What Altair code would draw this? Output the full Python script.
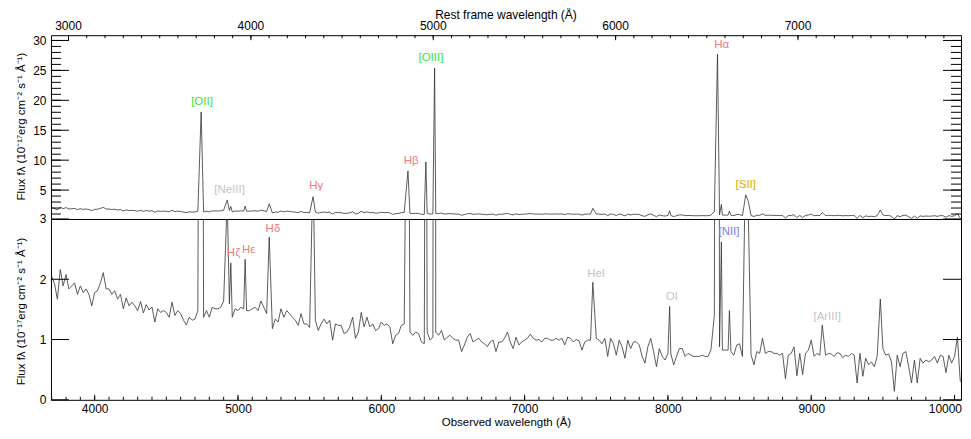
import altair as alt
import pandas as pd

# ---------------- data ----------------
grid_start = 3700     # observed wavelength of first continuum sample (A)
grid_step = 20        # sampling step of the continuum samples (A)
continuum = [
    2.05, 1.92, 1.67, 2.16, 1.89, 2.08, 1.84, 1.89, 1.94, 1.75,   # 3700-3880
    1.89, 1.78, 1.84, 1.75, 1.56, 1.78, 1.81, 1.94, 2.11, 1.84,   # 3900-4080
    1.84, 1.75, 1.81, 1.67, 1.75, 1.51, 1.69, 1.56, 1.62, 1.56,   # 4100-4280
    1.48, 1.63, 1.44, 1.58, 1.49, 1.54, 1.29, 1.51, 1.45, 1.48,   # 4300-4480
    1.45, 1.37, 1.62, 1.40, 1.48, 1.43, 1.32, 1.24, 1.37, 1.32,   # 4500-4680
    1.34, 1.48, 1.40, 1.37, 1.48, 1.37, 1.535, 1.51, 1.51, 1.535, # 4700-4880
    1.64, 1.60, 1.59, 1.37, 1.51, 1.48, 1.535, 1.51, 1.48, 1.48,  # 4900-5080
    1.51, 1.535, 1.48, 1.64, 1.535, 1.43, 1.30, 1.18, 1.34, 1.29, # 5100-5280
    1.51, 1.37, 1.48, 1.43, 1.37, 1.32, 1.235, 1.43, 1.26, 1.26,  # 5300-5480
    1.20, 1.25, 1.32, 1.15, 1.26, 1.34, 1.26, 1.32, 0.99, 1.26,   # 5500-5680
    1.235, 1.235, 1.10, 1.125, 1.21, 1.37, 1.02, 1.125, 1.45, 1.21, # 5700-5880
    1.37, 1.21, 1.26, 1.15, 1.18, 1.29, 1.235, 1.26, 1.21, 0.93,  # 5900-6080
    1.07, 1.10, 1.235, 1.26, 1.15, 1.125, 1.07, 1.125, 1.10, 0.96, # 6100-6280
    0.93, 1.125, 0.99, 1.04, 1.125, 1.07, 1.15, 0.99, 1.04, 1.07, # 6300-6480
    1.02, 0.99, 0.99, 0.80, 0.91, 1.04, 1.10, 0.96, 0.99, 1.02,   # 6500-6680
    0.96, 0.93, 0.88, 0.96, 0.99, 0.80, 0.96, 0.96, 1.02, 1.125,  # 6700-6880
    0.96, 0.85, 1.04, 0.91, 0.96, 0.99, 1.02, 1.09, 1.02, 0.99,   # 6900-7080
    1.00, 0.96, 1.02, 1.02, 0.99, 0.99, 1.02, 0.99, 1.02, 0.91,   # 7100-7280
    1.04, 1.02, 0.96, 1.00, 0.98, 0.825, 0.96, 0.99, 0.99, 0.98,  # 7300-7480
    1.02, 0.99, 0.93, 1.02, 0.72, 1.02, 0.93, 0.74, 0.99, 0.88,   # 7500-7680
    0.69, 0.99, 0.85, 0.96, 0.96, 0.91, 0.72, 0.61, 0.88, 1.02,   # 7700-7880
    0.80, 0.55, 0.85, 0.72, 0.66, 0.77, 0.77, 0.58, 0.72, 0.85,   # 7900-8080
    0.85, 0.72, 0.77, 0.74, 0.72, 0.72, 0.72, 0.74, 0.72, 0.72,   # 8100-8280
    0.825, 0.80, 0.80, 0.88, 0.825, 0.825, 0.825, 0.80, 0.74, 0.91, # 8300-8480
    0.93, 0.72, 0.75, 0.75, 0.75, 0.58, 0.80, 0.77, 1.02, 0.77,   # 8500-8680
    0.80, 0.80, 0.77, 0.77, 0.74, 0.77, 0.35, 0.74, 0.77, 0.88,   # 8700-8880
    0.40, 0.77, 0.42, 0.77, 0.825, 0.99, 0.72, 0.77, 0.74, 0.75,  # 8900-9080
    0.74, 0.77, 0.76, 0.72, 0.78, 0.77, 0.70, 0.74, 0.72, 0.77,   # 9100-9280
    0.74, 0.28, 0.77, 0.39, 0.69, 0.58, 0.63, 0.55, 0.72, 0.70,   # 9300-9480
    0.85, 0.74, 0.76, 0.63, 0.14, 0.74, 0.55, 0.77, 0.80, 0.55,   # 9500-9680
    0.28, 0.66, 0.28, 0.69, 0.61, 0.66, 0.63, 0.66, 0.72, 0.61,   # 9700-9880
    0.74, 0.72, 0.45, 0.74, 0.61, 0.72, 1.04, 0.30,               # 9900-10040
]

# emission-line peaks (observed wavelength, peak flux)
line_wave = [4743, 4925, 4950, 5050, 5218, 5524, 6186, 6311, 6372,
             7476, 8012, 8324, 8346, 8373, 8429, 8543, 8561, 9077, 9482]
line_peak = [18.05, 3.33, 2.27, 2.33, 2.70, 3.9, 8.2, 9.7, 25.4,
             1.95, 1.55, 1.40, 27.7, 2.62, 1.48, 4.2, 3.1, 1.24, 1.67]

# line labels, upper panel
top_text = ["[OII]", "[NeIII]", "H\u03b3", "H\u03b2", "[OIII]", "H\u03b1", "[SII]"]
top_wave = [4749, 4941, 5546, 6209, 6346, 8375, 8543]
top_flux = [19.7, 5.0, 5.7, 9.8, 27.0, 29.3, 5.8]
top_color = ["#33e633", "#c4c4c4", "#ee7b7b", "#ee7b7b", "#33e633", "#ee7b7b", "#d4ae00"]

# line labels, lower panel
bot_text = ["H\u03b6", "H\u03b5", "H\u03b4", "HeI", "OI", "[NII]", "[ArIII]"]
bot_wave = [4969, 5074, 5244, 7499, 8027, 8426, 9111]
bot_flux = [2.44, 2.49, 2.83, 2.09, 1.70, 2.78, 1.38]
bot_color = ["#ee7b7b", "#ee7b7b", "#ee7b7b", "#c4c4c4", "#c4c4c4", "#7b7bee", "#c4c4c4"]

# axes
obs_domain = [3695, 10045]
one_plus_z = 1.2725
top_domain = [0.17, 30.88]
bot_domain = [0, 3]
top_major = [5, 10, 15, 20, 25, 30]
top_minor = list(range(1, 31))
bot_major = [0, 1, 2, 3]
obs_major = [4000, 5000, 6000, 7000, 8000, 9000, 10000]
obs_minor = list(range(3700, 10045, 100))
rest_major = [3000, 4000, 5000, 6000, 7000]
rest_minor = list(range(3000, 7900, 100))

y_title = "Flux f\u03bb (10\u207b\u00b9\u2077erg cm\u207b\u00b2 s\u207b\u00b9 \u00c5\u207b\u00b9)"
rest_title = "Rest frame wavelength (\u00c5)"
FONT = "Liberation Sans"

# ---------------- build spectrum ----------------
pts = []
for i, f in enumerate(continuum):
    w = grid_start + grid_step * i
    if min(abs(w - lw) for lw in line_wave) < 7:
        continue
    pts.append((w, f))
pts += list(zip(line_wave, line_peak))
pts.sort()
spec = pd.DataFrame(pts, columns=["wave", "flux"])

# rest-frame ticks placed on the observed-wavelength scale
rest_major_df = pd.DataFrame({"v": [r * one_plus_z for r in rest_major],
                              "lab": [str(r) for r in rest_major]})
rest_minor_obs = [r * one_plus_z for r in rest_minor]

W, H_TOP, H_BOT = 911, 184, 181


def sc(dom):
    return alt.Scale(domain=dom, nice=False, zero=False)


def y_axis(values, title_y):
    return alt.Axis(values=values, ticks=False, domain=False, grid=False, format="d",
                    labelPadding=5, labelFontSize=12, labelColor="black",
                    title=y_title, titleFontSize=11.5, titleFontWeight="normal",
                    titleColor="black", titleX=-29, titleY=title_y, titleAngle=270,
                    titleAlign="center", titleBaseline="middle")


x_axis_bottom = alt.Axis(values=obs_major, ticks=False, domain=False, grid=False, format="d",
                         labelPadding=4, labelFontSize=12, labelColor="black",
                         labelFlush=10, labelFlushOffset=7,
                         title="Observed wavelength (\u00c5)", titleFontSize=11.5,
                         titleFontWeight="normal", titleColor="black", titlePadding=1.5)
y_axis_top = y_axis(top_major, 91)
y_axis_bot = y_axis(bot_major, 92)


def xticks(values, size, top_edge, height, xaxis):
    y0, y1 = (0, size) if top_edge else (height - size, height)
    return alt.Chart(pd.DataFrame({"v": values})).mark_rule(color="black", strokeWidth=1).encode(
        x=alt.X("v:Q", scale=sc(obs_domain), axis=xaxis),
        y=alt.value(y0), y2=alt.value(y1))


def yticks(values, dom, size, right_edge, yaxis):
    x0, x1 = (W - size, W) if right_edge else (0, size)
    return alt.Chart(pd.DataFrame({"v": values})).mark_rule(color="black", strokeWidth=1).encode(
        y=alt.Y("v:Q", scale=sc(dom), axis=yaxis),
        x=alt.value(x0), x2=alt.value(x1))


# ---------------- upper panel ----------------
top_line = alt.Chart(spec).mark_line(color="#333333", strokeWidth=0.8, clip=True).encode(
    x=alt.X("wave:Q", scale=sc(obs_domain), axis=None),
    y=alt.Y("flux:Q", scale=sc(top_domain), axis=y_axis_top),
)
top_labels = alt.Chart(pd.DataFrame({"t": top_text, "w": top_wave, "f": top_flux, "c": top_color})).mark_text(
    fontSize=11.5, font=FONT, align="center", baseline="middle").encode(
    x=alt.X("w:Q", scale=sc(obs_domain), axis=None),
    y=alt.Y("f:Q", scale=sc(top_domain), axis=y_axis_top),
    text="t:N",
    color=alt.Color("c:N", scale=None),
)
rest_labels = alt.Chart(rest_major_df).mark_text(
    fontSize=12, font=FONT, align="center", baseline="alphabetic", color="black").encode(
    x=alt.X("v:Q", scale=sc(obs_domain), axis=None),
    y=alt.value(-5),
    text="lab:N",
)
rest_title_mark = alt.Chart(pd.DataFrame({"t": [rest_title]})).mark_text(
    fontSize=12, font=FONT, align="center", baseline="alphabetic", color="black").encode(
    x=alt.value(W / 2), y=alt.value(-16), text="t:N")

top = alt.layer(
    top_line, top_labels, rest_labels, rest_title_mark,
    xticks(rest_major_df["v"].tolist(), 5, True, H_TOP, None),
    xticks(rest_minor_obs, 3, True, H_TOP, None),
    yticks(top_major, top_domain, 18, False, y_axis_top),
    yticks(top_minor, top_domain, 10, False, y_axis_top),
    yticks(top_major, top_domain, 18, True, y_axis_top),
    yticks(top_minor, top_domain, 10, True, y_axis_top),
).properties(width=W, height=H_TOP)

# ---------------- lower panel ----------------
bot_line = alt.Chart(spec).mark_line(color="#333333", strokeWidth=0.8, clip=True).encode(
    x=alt.X("wave:Q", scale=sc(obs_domain), axis=x_axis_bottom),
    y=alt.Y("flux:Q", scale=sc(bot_domain), axis=y_axis_bot),
)
bot_labels = alt.Chart(pd.DataFrame({"t": bot_text, "w": bot_wave, "f": bot_flux, "c": bot_color})).mark_text(
    fontSize=11.5, font=FONT, align="center", baseline="middle").encode(
    x=alt.X("w:Q", scale=sc(obs_domain), axis=x_axis_bottom),
    y=alt.Y("f:Q", scale=sc(bot_domain), axis=y_axis_bot),
    text="t:N",
    color=alt.Color("c:N", scale=None),
)
bottom = alt.layer(
    bot_line, bot_labels,
    xticks(obs_major, 5, False, H_BOT, x_axis_bottom),
    xticks(obs_minor, 3, False, H_BOT, x_axis_bottom),
    yticks(bot_major, bot_domain, 18, False, y_axis_bot),
    yticks(bot_major, bot_domain, 18, True, y_axis_bot),
).properties(width=W, height=H_BOT)

chart = alt.vconcat(top, bottom, spacing=0, bounds="flush").properties(
    padding={"left": 7, "top": 0, "right": 0, "bottom": 0}
).configure(font=FONT).configure_view(stroke="black", strokeWidth=1)

chart.save("out.html", embed_options={"renderer": "svg", "actions": False})
